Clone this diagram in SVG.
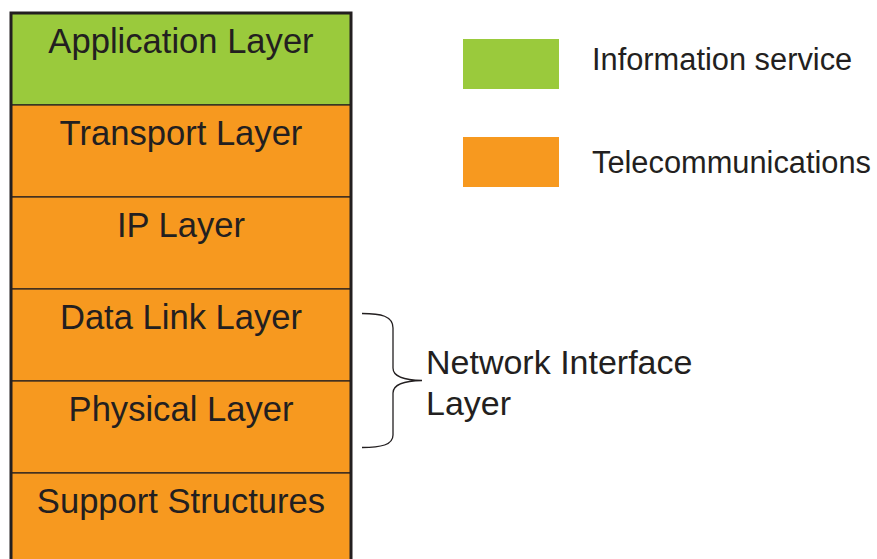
<svg xmlns="http://www.w3.org/2000/svg" width="877" height="559" viewBox="0 0 877 559">
  <style>
    .layer { stroke: #231f20; stroke-width: 1.2; }
    .info { fill: #9aca3c; }
    .tele { fill: #f7991f; }
    .lbl { font-family: "Liberation Sans", Arial, sans-serif; fill: #231f20; }
    .main { font-size: 34.6px; text-anchor: middle; }
    .legend { font-size: 30.8px; }
    .side { font-size: 34px; }
  </style>
  <rect width="877" height="559" fill="#ffffff"/>

  <!-- layer stack, each band 92px tall -->
  <g id="application-layer">
    <rect class="layer info" x="11" y="13" width="340" height="92"/>
    <text class="lbl main" x="181" y="53">Application Layer</text>
  </g>
  <g id="transport-layer">
    <rect class="layer tele" x="11" y="105" width="340" height="92"/>
    <text class="lbl main" x="181" y="145">Transport Layer</text>
  </g>
  <g id="ip-layer">
    <rect class="layer tele" x="11" y="197" width="340" height="92"/>
    <text class="lbl main" x="181" y="237">IP Layer</text>
  </g>
  <g id="data-link-layer">
    <rect class="layer tele" x="11" y="289" width="340" height="92"/>
    <text class="lbl main" x="181" y="329">Data Link Layer</text>
  </g>
  <g id="physical-layer">
    <rect class="layer tele" x="11" y="381" width="340" height="92"/>
    <text class="lbl main" x="181" y="421">Physical Layer</text>
  </g>
  <g id="support-structures">
    <rect class="layer tele" x="11" y="473" width="340" height="100"/>
    <text class="lbl main" x="181" y="513">Support Structures</text>
  </g>
  <!-- heavy outer frame -->
  <rect x="11" y="13" width="340" height="570" fill="none" stroke="#231f20" stroke-width="3"/>

  <!-- legend -->
  <g id="legend-information">
    <rect class="info" x="463" y="39" width="96" height="50"/>
    <text class="lbl legend" x="592" y="70">Information service</text>
  </g>
  <g id="legend-telecom">
    <rect class="tele" x="463" y="137" width="96" height="50"/>
    <text class="lbl legend" x="592" y="173">Telecommunications</text>
  </g>

  <!-- brace grouping the two lower layers -->
  <g id="connectors">
    <path d="M362,313.5 C381,313.5 393,316 393,328 L393,368 C393,377 404,380 422,380.5 C404,381 393,384 393,393 L393,435 C393,445 381,447.5 362,447.5"
          fill="none" stroke="#231f20" stroke-width="1.3"/>
  </g>
  <g id="network-interface-layer">
    <text class="lbl side" x="426" y="374">Network Interface</text>
    <text class="lbl side" x="426" y="415">Layer</text>
  </g>
</svg>
